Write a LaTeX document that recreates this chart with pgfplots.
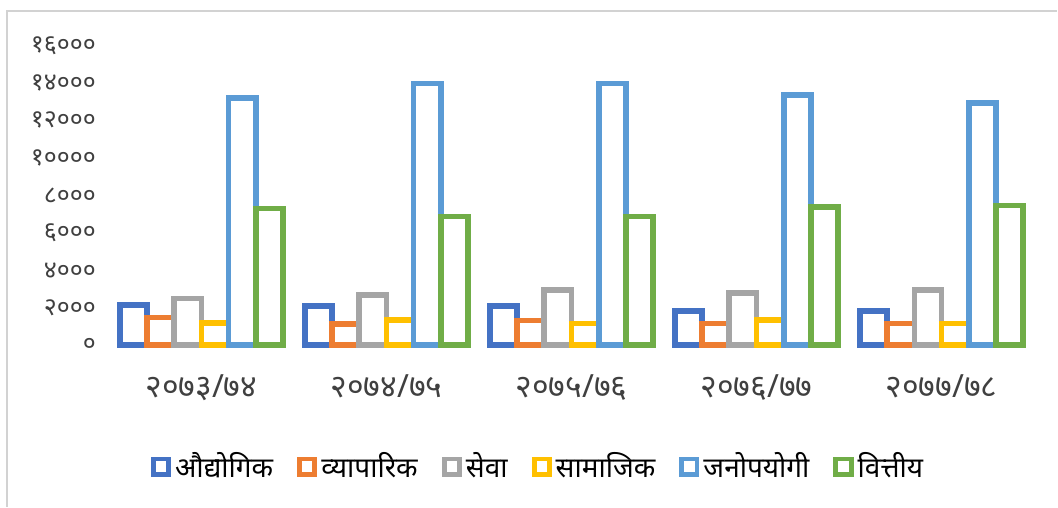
\documentclass[border=0pt]{standalone}
\usepackage{fontspec}
\usepackage{pgfplots}
\pgfplotsset{compat=1.18}
\newfontfamily\deva[Script=Devanagari]{Noto Sans}
\definecolor{c1}{HTML}{4472C4}
\definecolor{c2}{HTML}{ED7D31}
\definecolor{c3}{HTML}{A5A5A5}
\definecolor{c4}{HTML}{FFC000}
\definecolor{c5}{HTML}{5B9BD5}
\definecolor{c6}{HTML}{70AD47}
\definecolor{tick}{HTML}{404040}
\begin{document}
\begin{tikzpicture}
\begin{axis}[
  scale only axis,
  width=463pt, height=150pt,
  xmin=-0.5, xmax=4.5, ymin=0, ymax=16000,
  scaled y ticks=false,
  ybar=0pt, bar width=13.6pt,
  axis line style={draw=none},
  major tick length=0pt,
  xtick={0,1,2,3,4},
  xticklabels={२०७३/७४,२०७४/७५,२०७५/७६,२०७६/७७,२०७७/७८},
  ytick={0,2000,4000,6000,8000,10000,12000,14000,16000},
  yticklabels={०,२०००,४०००,६०००,८०००,१००००,१२०००,१४०००,१६०००},
  yticklabel style={font=\deva\fontsize{12.5}{14}\selectfont, text=tick, xshift=-3pt},
  xticklabel style={font=\deva\fontsize{16}{18}\selectfont, text=tick, yshift=-11pt},
  clip=false,
  legend columns=6,
  legend style={at={(0.465,-0.405)}, anchor=center, draw=none,
    font=\deva\fontsize{14}{16}\selectfont,
    /tikz/every even column/.append style={column sep=10pt},
    inner sep=0pt},
  legend image code/.code={\draw[#1, line width=2.5pt, fill=white] (0pt,-3.8pt) rectangle (7.6pt,3.8pt);},
  every axis plot/.append style={line width=2.85pt, fill=white},
]
\addplot[draw=c1] coordinates {(0,2150) (1,2080) (2,2080) (3,1830) (4,1830)};
\addplot[draw=c2] coordinates {(0,1480) (1,1140) (2,1320) (3,1160) (4,1160)};
\addplot[draw=c3] coordinates {(0,2500) (1,2680) (2,2930) (3,2780) (4,2930)};
\addplot[draw=c4] coordinates {(0,1200) (1,1330) (2,1160) (3,1330) (4,1160)};
\addplot[draw=c5] coordinates {(0,13200) (1,13970) (2,13970) (3,13370) (4,12940)};
\addplot[draw=c6] coordinates {(0,7300) (1,6870) (2,6870) (3,7380) (4,7450)};
\legend{औद्योगिक,व्यापारिक,सेवा,सामाजिक,जनोपयोगी,वित्तीय}
\draw[color=gray!35, line width=1pt] (rel axis cs:-0.1102,-0.5383) -- (rel axis cs:-0.1102,1.115) -- (rel axis cs:1.0248,1.115);
\path (rel axis cs:-0.1177,-0.5383) rectangle (rel axis cs:1.0248,1.1517);
\end{axis}
\end{tikzpicture}
\end{document}
